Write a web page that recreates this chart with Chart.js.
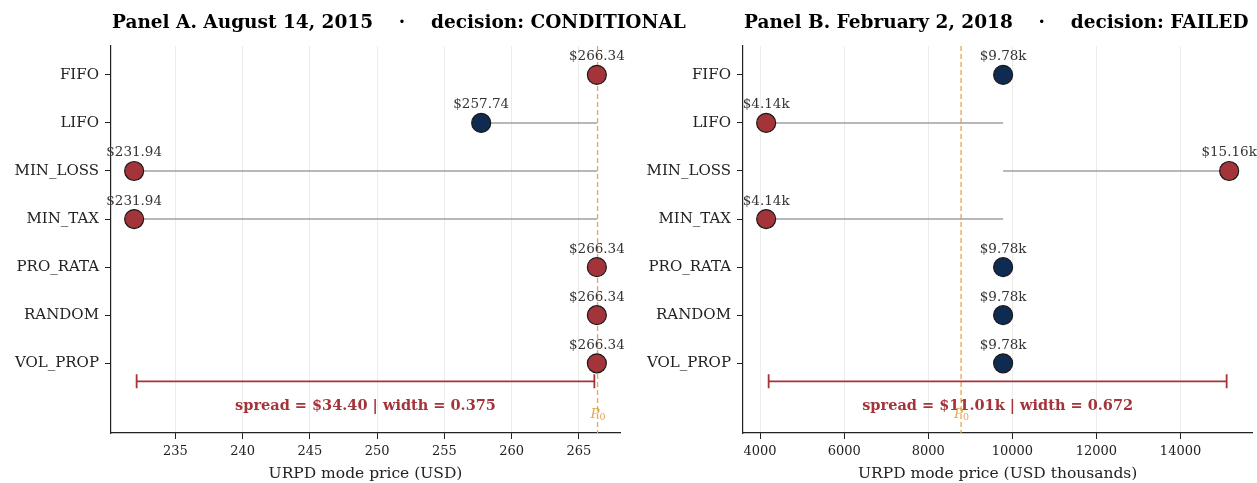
<!DOCTYPE html>
<html>
<head>
<meta charset="utf-8">
<script src="https://cdn.jsdelivr.net/npm/chart.js@4.4.1/dist/chart.umd.min.js"></script>
<style>
    html, body { margin: 0; padding: 0; background: #fff; }
    #wrap { position: relative; width: 1257px; height: 483px; overflow: hidden; }
    .panel { position: absolute; top: 0; height: 483px; }
</style>
</head>
<body>
<div id="wrap">
    <div class="panel" style="left:0;width:740px"><canvas id="chartA" width="740" height="483"></canvas></div>
    <div class="panel" style="left:628px;width:635px"><canvas id="chartB" width="635" height="483"></canvas></div>
</div>
<script>
// ---- data ----
const categories = ['FIFO', 'LIFO', 'MIN_LOSS', 'MIN_TAX', 'PRO_RATA', 'RANDOM', 'VOL_PROP'];

const panelATitle = 'Panel A. August 14, 2015    \u00b7    decision: CONDITIONAL';
const panelAValues = [266.34, 257.74, 231.94, 231.94, 266.34, 266.34, 266.34];
const panelAFlagged = [true, false, true, true, true, true, true];
const panelAP0 = 266.39;
const panelAWidth = 0.375;
const panelAXTicks = [235, 240, 245, 250, 255, 260, 265];

const panelBTitle = 'Panel B. February 2, 2018    \u00b7    decision: FAILED';
const panelBValues = [9780, 4144, 15156, 4144, 9780, 9780, 9780];
const panelBFlagged = [false, true, true, true, false, false, false];
const panelBP0 = 8780;
const panelBWidth = 0.672;
const panelBXTicks = [4000, 6000, 8000, 10000, 12000, 14000];

// ---- style ----
const RED = '#a3343a';
const NAVY = '#0f2b52';
const ORANGE = '#e8a552';
const INK = '#222222';
const SERIF = "'DejaVu Serif', serif";

const fmtUsd = v => '$' + v.toFixed(2);
const fmtK = v => '$' + (v / 1000).toFixed(2) + 'k';

const overlayPlugin = {
    id: 'overlay',
    beforeDatasetsDraw(chart, args, o) {
        const { ctx, chartArea } = chart;
        const x = chart.scales.x.getPixelForValue(o.p0);
        ctx.save();
        ctx.strokeStyle = ORANGE;
        ctx.lineWidth = 1.3;
        ctx.setLineDash([5, 3]);
        ctx.beginPath();
        ctx.moveTo(x, chartArea.top);
        ctx.lineTo(x, chartArea.bottom);
        ctx.stroke();
        ctx.restore();
    },
    afterDatasetsDraw(chart, args, o) {
        const { ctx, chartArea } = chart;
        const xs = chart.scales.x, ys = chart.scales.y;
        ctx.save();
        // value labels above dots
        ctx.font = '13.5px ' + SERIF;
        ctx.fillStyle = '#333';
        ctx.textAlign = 'center';
        ctx.textBaseline = 'middle';
        o.values.forEach((v, i) => {
            ctx.fillText(o.fmt(v), xs.getPixelForValue(v), ys.getPixelForValue(i) - 18);
        });

        // spread bracket
        const lo = Math.min(...o.values), hi = Math.max(...o.values);
        const x0 = xs.getPixelForValue(lo) + 2.5, x1 = xs.getPixelForValue(hi) - 2.5;
        const yb = ys.getPixelForValue(6.375);
        ctx.strokeStyle = RED;
        ctx.lineWidth = 1.8;
        ctx.beginPath();
        ctx.moveTo(x0, yb); ctx.lineTo(x1, yb);
        ctx.moveTo(x0, yb - 7); ctx.lineTo(x0, yb + 7);
        ctx.moveTo(x1, yb - 7); ctx.lineTo(x1, yb + 7);
        ctx.stroke();

        ctx.font = 'bold 14.5px ' + SERIF;
        ctx.fillStyle = RED;
        ctx.fillText('spread = ' + o.fmt(hi - lo) + ' | width = ' + o.width.toFixed(3),
            xs.getPixelForValue((lo + hi) / 2), ys.getPixelForValue(6.9));

        // P0 label
        const px = xs.getPixelForValue(o.p0);
        const py = chartArea.bottom - 19;
        ctx.fillStyle = ORANGE;
        ctx.font = 'italic 13.5px ' + SERIF;
        ctx.textAlign = 'right';
        ctx.fillText('P', px + 2, py);
        ctx.font = '9.5px ' + SERIF;
        ctx.textAlign = 'left';
        ctx.fillText('0', px + 2, py + 4);

        // title
        ctx.fillStyle = '#000';
        ctx.font = 'bold 18.5px ' + SERIF;
        ctx.textAlign = 'left';
        ctx.fillText(o.title, chartArea.left + 1, 23);
        ctx.restore();
    }
};

function makePanel(canvasId, cfg) {
    const lo = Math.min(...cfg.values), hi = Math.max(...cfg.values);
    const margin = (hi - lo) * 0.05;
    const base = cfg.values[0];

    const stems = cfg.values.map((v, i) => ({
        type: 'line',
        data: [{ x: base, y: i }, { x: v, y: i }],
        borderColor: '#a0a0a0',
        borderWidth: 1.5,
        pointRadius: 0,
        order: 2
    }));

    const dots = {
        type: 'scatter',
        data: cfg.values.map((v, i) => ({ x: v, y: i })),
        backgroundColor: cfg.flagged.map(f => f ? RED : NAVY),
        borderColor: '#1a1a1a',
        borderWidth: 1.2,
        pointRadius: 9.5,
        pointHoverRadius: 9.5,
        order: 1
    };

    return new Chart(document.getElementById(canvasId), {
        type: 'scatter',
        data: { datasets: [...stems, dots] },
        options: {
            responsive: false,
            animation: false,
            events: [],
            layout: { padding: { top: 46, right: cfg.padRight, left: 0, bottom: 0 } },
            plugins: {
                legend: { display: false },
                tooltip: { enabled: false },
                overlay: {
                    values: cfg.values, p0: cfg.p0, fmt: cfg.fmt,
                    width: cfg.width, title: cfg.title
                }
            },
            scales: {
                x: {
                    type: 'linear',
                    min: lo - margin,
                    max: hi + margin,
                    afterBuildTicks: s => { s.ticks = cfg.xTicks.map(v => ({ value: v })); },
                    afterFit: s => { s.height = 50; s.paddingLeft = 0; s.paddingRight = 0; },
                    grid: { color: '#ececec', lineWidth: 1, tickColor: INK, tickLength: 6 },
                    border: { color: INK, width: 1.2 },
                    ticks: {
                        font: { family: SERIF, size: 13 }, color: INK, padding: 5, maxRotation: 0,
                        callback: v => String(v)
                    },
                    title: { display: true, text: cfg.xLabel, font: { family: SERIF, size: 15.5 }, color: INK, padding: { top: 0, bottom: 0 } }
                },
                y: {
                    type: 'linear',
                    reverse: true,
                    min: -0.6,
                    max: 7.45,
                    afterBuildTicks: s => { s.ticks = categories.map((c, i) => ({ value: i })); },
                    afterFit: s => { s.width = cfg.axisWidth; },
                    grid: { drawOnChartArea: false, tickColor: INK, tickLength: 6 },
                    border: { color: INK, width: 1.2 },
                    ticks: {
                        font: { family: SERIF, size: 15 },
                        color: INK,
                        padding: 6,
                        callback: v => categories[v]
                    }
                }
            }
        },
        plugins: [overlayPlugin]
    });
}

makePanel('chartA', {
    title: panelATitle, values: panelAValues, flagged: panelAFlagged, p0: panelAP0,
    width: panelAWidth, xTicks: panelAXTicks, fmt: fmtUsd,
    xLabel: 'URPD mode price (USD)', axisWidth: 111, padRight: 120
});

makePanel('chartB', {
    title: panelBTitle, values: panelBValues, flagged: panelBFlagged, p0: panelBP0,
    width: panelBWidth, xTicks: panelBXTicks, fmt: fmtK,
    xLabel: 'URPD mode price (USD thousands)', axisWidth: 115, padRight: 5
});
</script>
</body>
</html>
